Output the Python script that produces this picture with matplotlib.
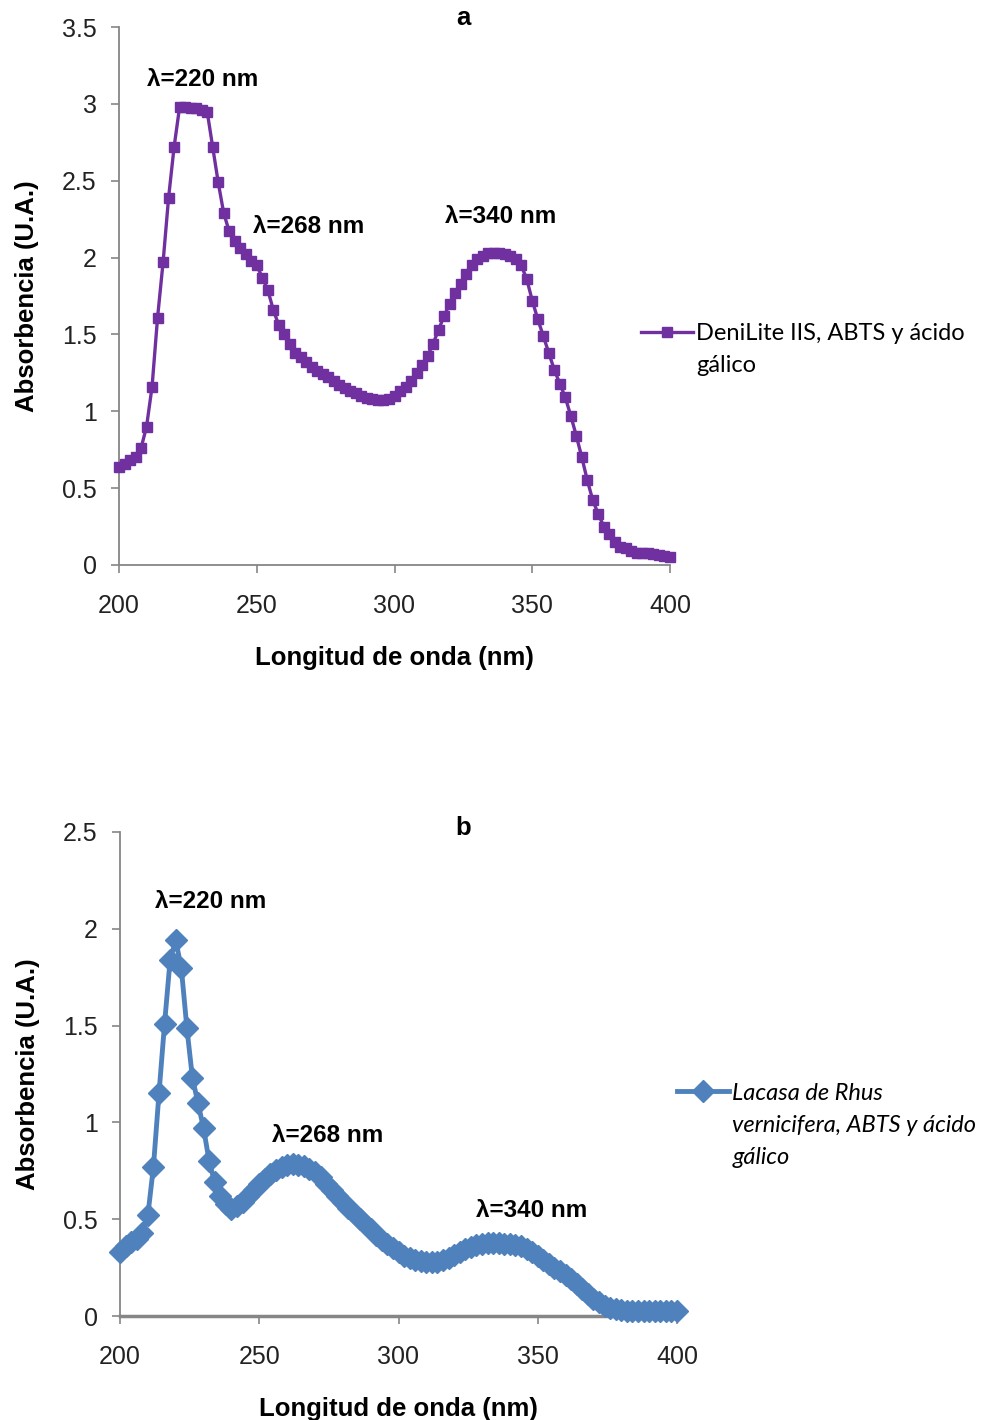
import numpy as np
import matplotlib
matplotlib.use("Agg")
import matplotlib.pyplot as plt
from matplotlib.ticker import FuncFormatter

plt.rcParams["font.family"] = ["Liberation Sans", "DejaVu Sans"]

# ---- data ----
wl = list(range(200, 401, 2))

abs_denilite = [
    0.64, 0.66, 0.68, 0.70, 0.76, 0.90, 1.16, 1.61, 1.97, 2.39,
    2.72, 2.98, 2.98, 2.97, 2.97, 2.96, 2.95, 2.72, 2.49, 2.29,
    2.17, 2.11, 2.06, 2.02, 1.98, 1.95, 1.87, 1.79, 1.66, 1.56,
    1.50, 1.44, 1.38, 1.35, 1.32, 1.29, 1.26, 1.24, 1.22, 1.20,
    1.17, 1.15, 1.13, 1.12, 1.10, 1.085, 1.08, 1.075, 1.075, 1.08,
    1.10, 1.13, 1.16, 1.20, 1.25, 1.30, 1.36, 1.44, 1.53, 1.62,
    1.70, 1.77, 1.83, 1.89, 1.95, 1.99, 2.01, 2.03, 2.03, 2.03,
    2.02, 2.01, 1.99, 1.95, 1.86, 1.72, 1.60, 1.49, 1.38, 1.27,
    1.18, 1.09, 0.97, 0.84, 0.70, 0.55, 0.42, 0.33, 0.25, 0.20,
    0.15, 0.12, 0.11, 0.09, 0.08, 0.075, 0.075, 0.07, 0.065, 0.06,
    0.055,
]

abs_lacasa = [
    0.33, 0.36, 0.38, 0.40, 0.43, 0.52, 0.77, 1.15, 1.51, 1.84,
    1.94, 1.80, 1.49, 1.23, 1.10, 0.97, 0.80, 0.69, 0.62, 0.58,
    0.555, 0.57, 0.59, 0.62, 0.65, 0.68, 0.71, 0.735, 0.755, 0.77,
    0.78, 0.785, 0.78, 0.775, 0.76, 0.745, 0.72, 0.68, 0.65, 0.62,
    0.59, 0.56, 0.53, 0.50, 0.475, 0.45, 0.42, 0.39, 0.37, 0.35,
    0.33, 0.31, 0.30, 0.29, 0.285, 0.28, 0.28, 0.28, 0.29, 0.30,
    0.315, 0.33, 0.345, 0.355, 0.365, 0.37, 0.375, 0.375, 0.375, 0.372,
    0.37, 0.365, 0.36, 0.345, 0.33, 0.31, 0.29, 0.27, 0.25, 0.23,
    0.21, 0.19, 0.165, 0.14, 0.115, 0.09, 0.07, 0.05, 0.04, 0.035,
    0.03, 0.028, 0.026, 0.025, 0.025, 0.025, 0.025, 0.025, 0.025, 0.025,
    0.025,
]

peak_labels = ["λ=220 nm", "λ=268 nm", "λ=340 nm"]
# legend labels, one entry per printed line
label_a = ["DeniLite IIS, ABTS y ácido", "gálico"]
label_b = ["Lacasa de Rhus", "vernicifera, ABTS y ácido", "gálico"]

PURPLE = "#7030A0"
BLUE = "#4F81BD"
GRAY = "#868686"
LEG_FONT = ["Lato", "DejaVu Sans"]


def fmt(v, pos):
    return f"{v:g}"


def style_axes(ax, ymax, bottom_lw=1.3):
    ax.spines[["top", "right"]].set_visible(False)
    ax.spines["left"].set_color(GRAY)
    ax.spines["bottom"].set_color(GRAY)
    ax.spines["left"].set_linewidth(1.3)
    ax.spines["bottom"].set_linewidth(bottom_lw)
    ax.set_xlim(200, 400)
    ax.set_ylim(0, ymax)
    ax.set_xticks(np.arange(200, 401, 50))
    ax.set_yticks(np.arange(0, ymax + 0.01, 0.5))
    ax.yaxis.set_major_formatter(FuncFormatter(fmt))
    ax.tick_params(axis="both", direction="out", color=GRAY, length=6, width=1.2,
                   labelsize=18, labelcolor="#222222")
    ax.tick_params(axis="x", pad=15)
    ax.tick_params(axis="y", pad=10)
    ax.set_xlabel("Longitud de onda (nm)", fontsize=18.5, fontweight="bold", labelpad=20)
    ax.set_ylabel("Absorbencia (U.A.)", fontsize=18.5, fontweight="bold")


def add_legend(ax, x_px, y_px, lines, italic, dy_px):
    style = "italic" if italic else "normal"
    ax.legend(ax.get_lines()[:1], [lines[0]], loc="center left",
              bbox_to_anchor=(x_px / 1002, 1 - y_px / 1420),
              bbox_transform=fig.transFigure, frameon=False, borderpad=0,
              borderaxespad=0, handlelength=2.2, handletextpad=0.15,
              prop={"family": LEG_FONT, "size": 17, "style": style})
    # continuation lines of the wrapped legend label
    fig.canvas.draw()
    leg_txt = ax.get_legend().get_texts()[0]
    bb = leg_txt.get_window_extent()
    for i, line in enumerate(lines[1:], start=1):
        fig.text(bb.x0 / fig.bbox.width, 1 - (y_px + i * dy_px) / 1420, line,
                 family=LEG_FONT, fontsize=17, style=style, ha="left", va="center")


fig = plt.figure(figsize=(10.02, 14.2), dpi=100)

# ---- panel a ----
ax1 = fig.add_axes([119 / 1002, 1 - 565 / 1420, 551 / 1002, 538 / 1420])
ax1.plot(wl, abs_denilite, color=PURPLE, lw=2.4, marker="s", ms=7.5,
         clip_on=False, zorder=3)
style_axes(ax1, 3.5)
ax1.yaxis.set_label_coords(-0.145, 0.5)
ax1.text(230.5, 3.16, peak_labels[0], fontsize=17.5, fontweight="bold", ha="center", va="center")
ax1.text(269, 2.205, peak_labels[1], fontsize=17.5, fontweight="bold", ha="center", va="center")
ax1.text(338.7, 2.264, peak_labels[2], fontsize=17.5, fontweight="bold", ha="center", va="center")
fig.text(463 / 1002, 1 - 18 / 1420, "a", fontsize=18.5, fontweight="bold", ha="center", va="center")

# ---- panel b ----
ax2 = fig.add_axes([120 / 1002, 1 - 1316 / 1420, 557 / 1002, 484 / 1420])
ax2.plot(wl, abs_lacasa, color=BLUE, lw=3.5, marker="D", ms=11,
         clip_on=False, zorder=3)
style_axes(ax2, 2.5, bottom_lw=2.5)
ax2.yaxis.set_label_coords(-0.144, 0.5)
ax2.text(232.6, 2.14, peak_labels[0], fontsize=17.5, fontweight="bold", ha="center", va="center")
ax2.text(274.5, 0.934, peak_labels[1], fontsize=17.5, fontweight="bold", ha="center", va="center")
ax2.text(347.7, 0.545, peak_labels[2], fontsize=17.5, fontweight="bold", ha="center", va="center")
fig.text(463 / 1002, 1 - 828 / 1420, "b", fontsize=18.5, fontweight="bold", ha="center", va="center")

add_legend(ax1, 641, 334, label_a, False, 32)
add_legend(ax2, 677, 1093, label_b, True, 32.5)

fig.savefig("out.png", dpi=100)
